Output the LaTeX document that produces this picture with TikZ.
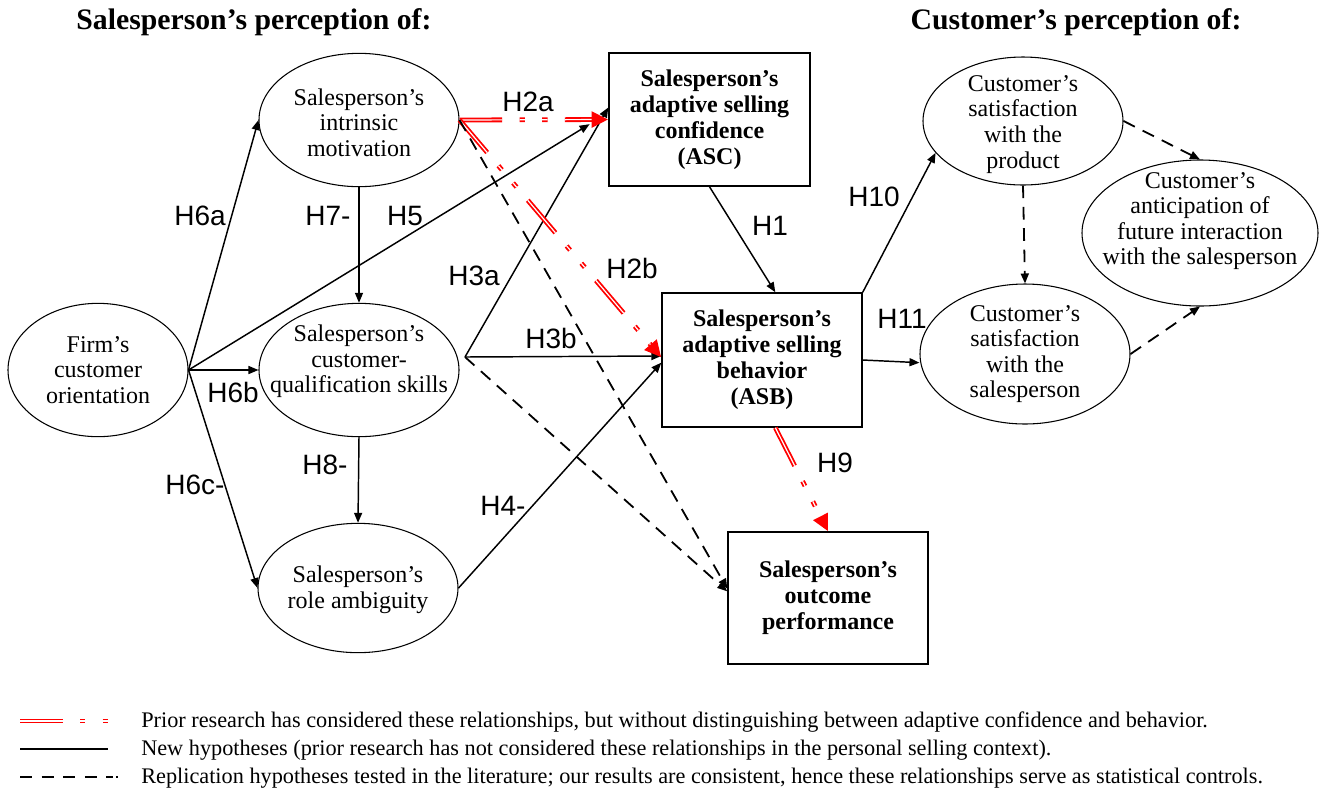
\documentclass[tikz,border=0pt]{standalone}
\usepackage{fontspec}
\setmainfont{Liberation Serif}
\newfontfamily\varfont{Liberation Serif}
\newfontfamily\hypfont{Liberation Sans}
\usepackage{tikz}
\usetikzlibrary{arrows.meta,shapes.geometric}
\usepackage{xcolor}
\definecolor{priorred}{RGB}{255,0,0}
\tikzstyle{var} = [draw, ellipse, inner sep=0pt, line width=0.8pt]
\tikzstyle{vtext} = [align=center, inner sep=0pt, font=\varfont\fontsize{18}{19.2}\selectfont]
\tikzstyle{box} = [draw, rectangle, align=center, line width=1.1pt, font=\varfont\fontsize{18}{19.5}\selectfont\bfseries]
\tikzstyle{head} = [font=\varfont\fontsize{22.3}{24}\selectfont\bfseries]
\tikzstyle{hyp} = [inner sep=0pt, font=\hypfont\fontsize{21}{21}\selectfont]
\tikzstyle{keytext} = [anchor=west, inner sep=0pt, font=\varfont\fontsize{16.7}{18}\selectfont]
\tikzstyle{new} = [line width=1.1pt, -{Triangle[length=7.5pt,width=6pt]}]
\tikzstyle{repl} = [new, line width=1.35pt, dash pattern=on 9.5pt off 6.5pt]
\tikzstyle{priorline} = [draw=priorred, line width=3.6pt, dash pattern=on 32pt off 13pt on 4pt off 13pt on 4pt off 13pt, postaction={draw=white, line width=0.9pt}]
\tikzstyle{prior} = [priorline, shorten >=4pt, postaction={draw=priorred, dash pattern=on 0pt off 2000pt, shorten >=0pt, -{Triangle[length=12.5pt,width=11.5pt]}}]

\begin{document}
\begin{tikzpicture}[x=0.75pt,y=-0.75pt]
\useasboundingbox (0,0) rectangle (1328,794);

% Headings
\node[head] (hsp) at (254,22) {Salesperson’s perception of:};
\node[head] (hcu) at (1076,22) {Customer’s perception of:};

% Salesperson side
\node[var, minimum width=135pt, minimum height=100pt, label={[vtext]center:Firm’s\\customer\\orientation}] (fco) at (98,370) {};
\node[var, minimum width=150pt, minimum height=100pt, label={[vtext, yshift=-2pt]center:Salesperson’s\\intrinsic\\motivation}] (im) at (359,120) {};
\node[var, minimum width=150pt, minimum height=100pt, label={[vtext, yshift=6.5pt]center:Salesperson’s\\customer-\\qualification skills}] (qs) at (359,370) {};
\node[var, minimum width=150pt, minimum height=97pt, label={[vtext, yshift=-1.5pt]center:Salesperson’s\\role ambiguity}] (ra) at (358,588) {};
\coordinate (qsx) at (465,357);

% Adaptive selling and performance
\node[box, minimum width=150.75pt, minimum height=99.75pt] (asc) at (709.5,119.5) {Salesperson’s\\adaptive selling\\confidence\\(ASC)};
\node[box, minimum width=150pt, minimum height=100.5pt] (asb) at (762,360) {Salesperson’s\\adaptive selling\\behavior\\(ASB)};
\node[box, minimum width=150pt, minimum height=99pt] (op) at (828,598) {Salesperson’s\\outcome\\performance};

% Customer side
\node[var, minimum width=150pt, minimum height=96pt, label={[vtext, yshift=-2.5pt]center:Customer’s\\satisfaction\\with the\\product}] (csp) at (1023,121) {};
\node[var, minimum width=157.5pt, minimum height=105pt, label={[vtext]center:Customer’s\\satisfaction\\with the\\salesperson}] (css) at (1025,354) {};
\node[var, minimum width=177pt, minimum height=109.5pt, label={[vtext, yshift=9pt]center:Customer’s\\anticipation of\\future interaction\\with the salesperson}] (cfi) at (1200,233) {};

% New hypotheses
\draw[new] (fco.east) -- (im.west);
\draw[new] (fco.east) -- (qs.west);
\draw[new] (fco.east) -- (ra.west);
\draw[new] (fco.east) -- ([xshift=-14pt,yshift=-3.5pt]asc.west);
\draw[new] (im.south) -- (qs.north);
\draw[new] (qs.south) -- (ra.north);
\draw[new] (qsx) -- ([yshift=9pt]asc.west);
\draw[new] (qsx) -- ([yshift=3pt]asb.west);
\draw[new] (ra.east) -- ([yshift=-2pt]asb.west);
\draw[new] (asc.south) -- ([xshift=10pt]asb.north);
\draw[new] (asb.north east) -- (csp.200);
\draw[new] (asb.east) -- ([yshift=-6.5pt]css.west);

% Prior research
\draw[prior] (im.east) -- (asc.west);
\draw[prior] (im.east) -- ([yshift=2pt]asb.west);
\draw[prior] ([xshift=10pt]asb.south) -- (op.north);

% Replication (controls)
\draw[repl] (im.east) -- ([yshift=7pt]op.west);
\draw[repl] (qsx) -- ([yshift=5pt]op.west);
\draw[repl] (csp.south) -- (css.north);
\draw[repl] (csp.east) -- (cfi.north);
\draw[repl] (css.east) -- (cfi.south);

% Hypothesis labels
\node[hyp] (l2a) at (528,102) {H2a};
\node[hyp] (l6a) at (200,216) {H6a};
\node[hyp] (l7) at (328,216) {H7-};
\node[hyp] (l5) at (405,216) {H5};
\node[hyp] (l3a) at (474,276) {H3a};
\node[hyp] (l2b) at (632,268) {H2b};
\node[hyp] (l3b) at (551,338) {H3b};
\node[hyp] (l6b) at (233,392) {H6b};
\node[hyp] (l8) at (325,465) {H8-};
\node[hyp] (l6c) at (195,485) {H6c-};
\node[hyp] (l4) at (503,506) {H4-};
\node[hyp] (l1) at (770,226) {H1};
\node[hyp] (l9) at (835,463) {H9};
\node[hyp] (l10) at (874,197) {H10};
\node[hyp] (l11) at (902,319) {H11};

% Key
\coordinate (k1a) at (20,721);
\coordinate (k1b) at (108,721);
\coordinate (k2a) at (20,749);
\coordinate (k2b) at (108,749);
\coordinate (k3a) at (20,777);
\coordinate (k3b) at (118,777);
\draw[priorline] (k1a) -- (k1b);
\draw[line width=2.2pt] (k2a) -- (k2b);
\draw[line width=1.6pt, dash pattern=on 9pt off 7.2pt on 9pt off 7.2pt on 9pt off 7.2pt on 9pt off 7.2pt on 5pt off 2.5pt on 1.5pt off 9pt] (k3a) -- (k3b);
\node[keytext] (t1) at (141,722) {Prior research has considered these relationships, but without distinguishing between adaptive confidence and behavior.};
\node[keytext] (t2) at (141,750) {New hypotheses (prior research has not considered these relationships in the personal selling context).};
\node[keytext] (t3) at (141,778) {Replication hypotheses tested in the literature; our results are consistent, hence these relationships serve as statistical controls.};
\end{tikzpicture}
\end{document}
